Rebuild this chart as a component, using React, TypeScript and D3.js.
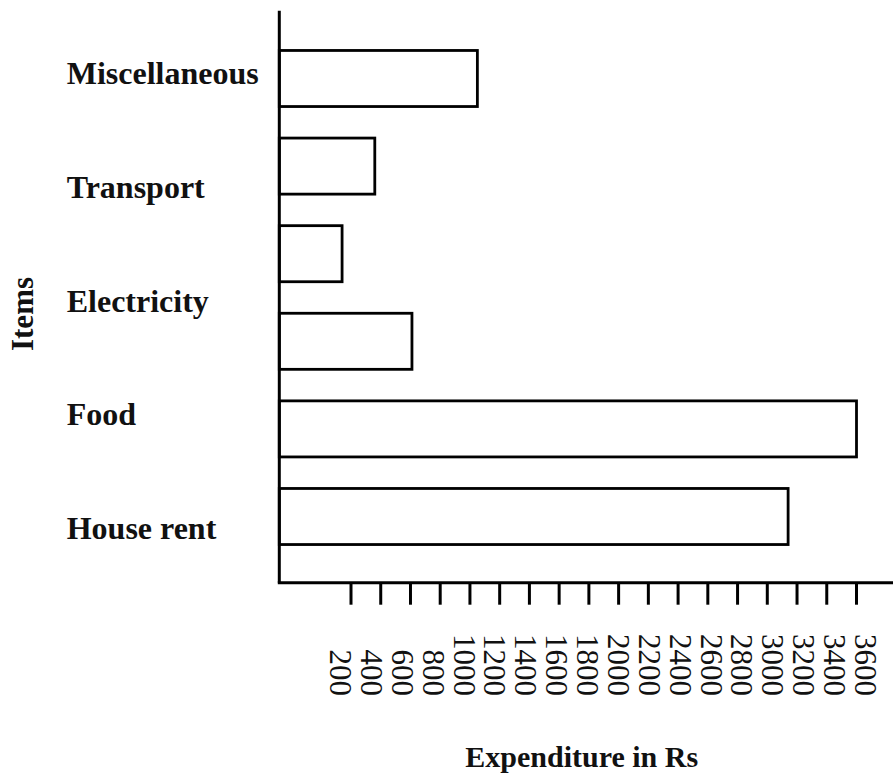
import React from "react";
import * as d3 from "d3";

// ---- data ----
const itemLabels = ["Miscellaneous", "Transport", "Electricity", "Food", "House rent"];
const barItems = ["Miscellaneous", "Transport", "Unlabelled bar", "Electricity", "Food", "House rent"];
const barValues = [1050, 360, 140, 610, 3600, 3140];
const tickValues = [200, 400, 600, 800, 1000, 1200, 1400, 1600, 1800, 2000, 2200, 2400, 2600, 2800, 3000, 3200, 3400, 3600];
const xTitle = "Expenditure in Rs";
const yTitle = "Items";

const W = 893;
const H = 775;
const FONT = "'Liberation Serif', 'Times New Roman', serif";

export default function App() {
  const plotLeft = 279.3;
  const axisTop = 10.7;
  const axisY = 582.7;

  const x = d3.scaleLinear().domain([200, 3600]).range([351, 856.5]);
  const labelX = d3.scaleLinear().domain([200, 3600]).range([330, 855]);
  const y = d3
    .scaleBand<string>()
    .domain(barItems)
    .range([34.7, 560.3])
    .paddingInner(0.36)
    .paddingOuter(0.18);
  const labelY = d3.scalePoint<string>().domain(itemLabels).range([84.3, 539]);

  const bars = barItems.map((k, i) => ({ key: k, value: barValues[i] }));

  return (
    <svg
      width={W}
      height={H}
      style={{ position: "absolute", left: 0, top: 0, background: "#fff" }}
      fontFamily={FONT}
    >
      <rect x={0} y={0} width={W} height={H} fill="#fff" />
      {bars.map((b) => (
        <rect
          key={b.key}
          x={plotLeft}
          y={y(b.key)}
          width={x(b.value) - plotLeft}
          height={y.bandwidth()}
          fill="#fff"
          stroke="#000"
          strokeWidth={2.8}
        />
      ))}
      {/* axes */}
      <line x1={plotLeft} x2={plotLeft} y1={axisTop} y2={axisY} stroke="#000" strokeWidth={3} />
      <line x1={plotLeft - 1.5} x2={W} y1={axisY} y2={axisY} stroke="#000" strokeWidth={3} />
      {tickValues.map((v) => (
        <line key={"t" + v} x1={x(v)} x2={x(v)} y1={axisY} y2={axisY + 22} stroke="#000" strokeWidth={3} />
      ))}
      {tickValues.map((v) => (
        <text
          key={"l" + v}
          transform={`translate(${labelX(v)},696) rotate(90)`}
          textAnchor="end"
          fontSize={31}
          fill="#111"
        >
          {v}
        </text>
      ))}
      {itemLabels.map((l) => (
        <text key={l} x={66.7} y={labelY(l)} fontSize={32} fontWeight="bold" fill="#111">
          {l}
        </text>
      ))}
      <text transform="translate(33.3,314) rotate(-90)" textAnchor="middle" fontSize={31} fontWeight="bold" fill="#111">
        {yTitle}
      </text>
      <text x={581.7} y={767} textAnchor="middle" fontSize={30} fontWeight="bold" fill="#111">
        {xTitle}
      </text>
    </svg>
  );
}
